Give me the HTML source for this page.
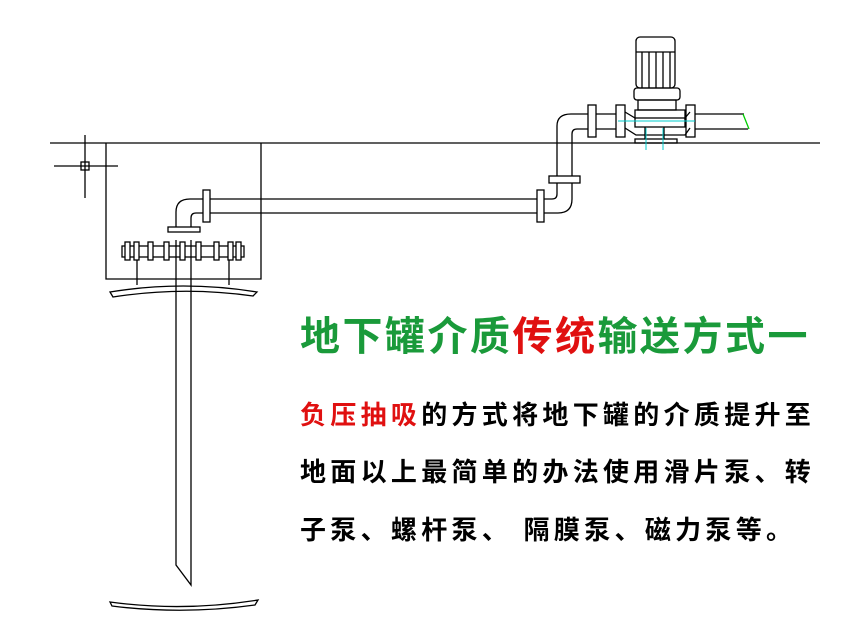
<!DOCTYPE html>
<html><head><meta charset="utf-8"><style>
body{margin:0;background:#fff;width:866px;height:640px;overflow:hidden;position:relative;font-family:"Liberation Sans","Noto Sans CJK SC",sans-serif}
.t{position:absolute;white-space:nowrap}
</style></head><body>
<svg width="866" height="640" style="position:absolute;left:0;top:0" fill="none" stroke="#000" stroke-width="1.3">
<line x1="50" y1="143" x2="820" y2="143"/>
<line x1="85" y1="135" x2="85" y2="198"/><line x1="54" y1="166" x2="118" y2="166"/>
<rect x="81" y="162" width="8" height="8"/>
<polyline points="106,143 106,279 261,279 261,143"/>
<path d="M110,292 Q183,280 257,292 L253,296 Q183,286 113,297 Z"/>
<path d="M110,602 L112,606 Q183,615 255,605 L258,600 Q183,612 110,602 Z"/>
<polyline points="176,240 176,565 191,585 191,240"/>
<line x1="137" y1="257" x2="137" y2="285"/><line x1="229" y1="257" x2="229" y2="285"/>
<rect x="122" y="246" width="122" height="11"/>
<g fill="#fff"><rect x="125" y="242" width="5" height="18"/><rect x="134" y="242" width="5" height="18"/><rect x="148" y="242" width="5" height="18"/><rect x="164" y="242" width="5" height="18"/><rect x="180" y="242" width="5" height="18"/><rect x="196" y="242" width="5" height="18"/><rect x="214" y="242" width="5" height="18"/><rect x="228" y="242" width="5" height="18"/><rect x="236" y="242" width="5" height="18"/></g>
<rect x="168" y="227" width="32" height="5"/>
<path d="M176,227 L176,212 Q176,199 190,199 L203,199"/>
<path d="M191,227 L191,218 Q191,213 196,213 L203,213"/>
<rect x="203" y="190" width="7" height="32"/>
<line x1="210" y1="199" x2="537" y2="199"/><line x1="210" y1="213" x2="537" y2="213"/>
<rect x="537" y="190" width="7" height="32"/>
<path d="M544,199 L552,199 Q557,199 557,194 L557,183"/>
<path d="M544,213 L558,213 Q572,213 572,199 L572,183"/>
<rect x="549" y="176" width="31" height="7"/>
<path d="M557,176 L557,126 Q557,114 571,114 L588,114"/>
<path d="M572,176 L572,134 Q572,129 577,129 L588,129"/>
<rect x="588" y="105" width="8" height="32"/>
<line x1="596" y1="114" x2="616" y2="114"/><line x1="596" y1="129" x2="616" y2="129"/>
<rect x="616" y="105" width="9" height="32"/>
<path d="M625,112 L635,118 L635,110 L685,110 L685,118 L690,112"/>
<path d="M625,128 L636,135 L685,135 L690,128"/>
<rect x="635" y="118" width="50" height="9"/>
<rect x="686" y="105" width="9" height="32"/>
<line x1="695" y1="114" x2="744" y2="114"/><line x1="695" y1="129" x2="748" y2="129"/>
<line x1="743" y1="114" x2="749" y2="129" stroke="#0c0"/>
<rect x="635" y="139" width="42" height="4"/>
<line x1="645" y1="127" x2="645" y2="139"/><line x1="664" y1="127" x2="664" y2="139"/>
<rect x="638" y="100" width="38" height="10"/>
<rect x="634" y="88" width="46" height="12" rx="3"/>
<rect x="636" y="37" width="39" height="51" rx="4"/>
<line x1="642" y1="52" x2="642" y2="88"/><line x1="649" y1="52" x2="649" y2="88"/><line x1="656" y1="52" x2="656" y2="88"/><line x1="663" y1="52" x2="663" y2="88"/><line x1="670" y1="52" x2="670" y2="88"/>
<line x1="636" y1="52" x2="675" y2="52"/>
<g stroke="#0cc" stroke-width="1"><line x1="618" y1="121" x2="695" y2="121"/><line x1="646" y1="128" x2="646" y2="150"/><line x1="663" y1="128" x2="663" y2="150"/></g>
</svg>
<div class="t" style="left:300px;top:304px;font-size:40px;letter-spacing:2.5px;color:#1a9a3a;font-weight:bold">地下罐介质<span style="color:#e01010">传统</span>输送方式一</div>
<div class="t" style="left:300px;top:395px;font-size:26px;letter-spacing:4.3px;color:#000;font-weight:bold">
<span style="color:#e01010">负压抽吸</span>的方式将地下罐的介质提升至</div>
<div class="t" style="left:300px;top:452px;font-size:26px;letter-spacing:4.3px;color:#000;font-weight:bold">地面以上最简单的办法使用滑片泵、转</div>
<div class="t" style="left:300px;top:510px;font-size:26px;letter-spacing:4.3px;color:#000;font-weight:bold">子泵、螺杆泵、 隔膜泵、磁力泵等。</div>
</body></html>
